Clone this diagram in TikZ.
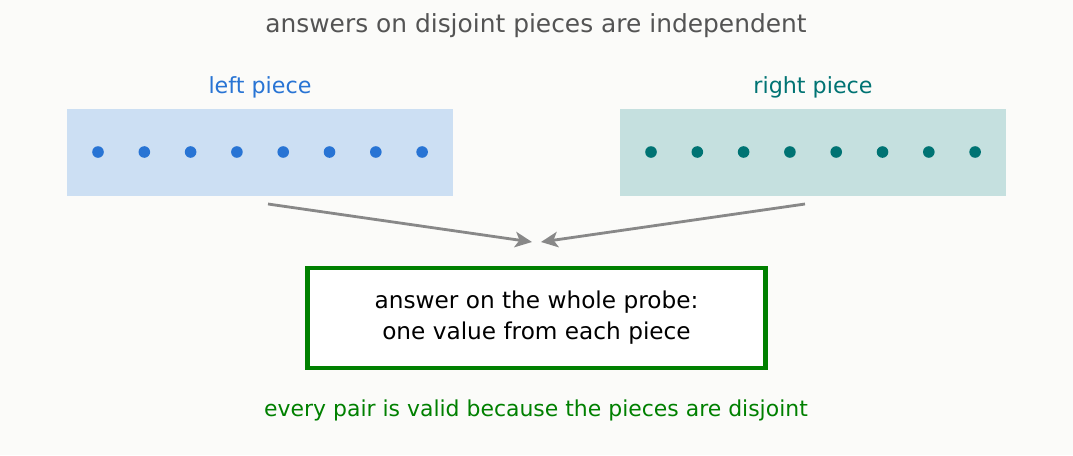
\documentclass[tikz,border=0pt]{standalone}
\usepackage{fontspec}
\setmainfont{DejaVu Sans}
\usetikzlibrary{positioning,arrows.meta}
\definecolor{bgcol}{HTML}{FBFBF9}
\definecolor{leftfill}{HTML}{CCDFF3}
\definecolor{leftdot}{HTML}{2874D4}
\definecolor{rightfill}{HTML}{C5E0DF}
\definecolor{rightdot}{HTML}{007373}
\definecolor{arrowgray}{HTML}{888888}
\definecolor{okgreen}{HTML}{008000}
\begin{document}
\begin{tikzpicture}[x=0.025cm,y=-0.025cm,
    piece/.style={minimum width=9.65cm,minimum height=2.175cm,inner sep=0pt},
    dot/.style={circle,inner sep=0pt,minimum size=0.29cm},
    flow/.style={draw=arrowgray,line width=2pt,-{Stealth[length=12pt,width=11pt,inset=3pt]}}]
  \fill[bgcol] (0,0) rectangle (1073,455);
  \node[text=black!67,font=\fontsize{17.7}{20}\selectfont] (title) at (536,26) {answers on disjoint pieces are independent};
  % the two pieces
  \node[piece,fill=leftfill] (L) at (260,152.5) {};
  \node[piece,fill=rightfill] (R) at (813,152.5) {};
  \node[text=leftdot,font=\fontsize{15.8}{18}\selectfont] (Llabel) at (260,87) {left piece};
  \node[text=rightdot,font=\fontsize{15.8}{18}\selectfont] (Rlabel) at (813,87) {right piece};
  \foreach \i in {0,...,7}{
    \node[dot,fill=leftdot] (L-\i) at (98+46.3*\i,152) {};
    \node[dot,fill=rightdot] (R-\i) at (651+46.3*\i,152) {};
  }
  % the whole probe
  \node[draw=okgreen,line width=3pt,fill=white,minimum width=11.45cm,minimum height=2.5cm,
    align=center,font=\fontsize{16.5}{22}\selectfont] (whole) at (536.5,318)
    {answer on the whole probe:\\one value from each piece};
  \coordinate (Lout) at (268,204);
  \coordinate (Rout) at (805,204);
  \coordinate (Lin) at (532,242);
  \coordinate (Rin) at (541,242);
  \draw[flow] (Lout) -- (Lin);
  \draw[flow] (Rout) -- (Rin);
  \node[text=okgreen,font=\fontsize{15.6}{18}\selectfont] (note) at (536,410) {every pair is valid because the pieces are disjoint};
\end{tikzpicture}
\end{document}
